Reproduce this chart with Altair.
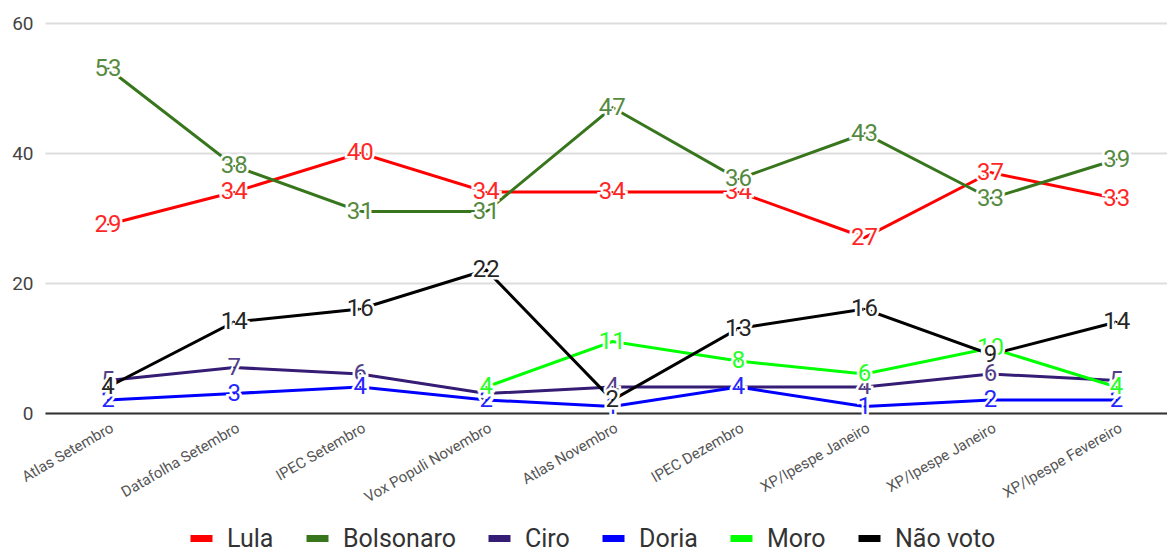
import json
import altair as alt
import pandas as pd

polls = ["Atlas Setembro", "Datafolha Setembro", "IPEC Setembro", "Vox Populi Novembro",
         "Atlas Novembro", "IPEC Dezembro", "XP/Ipespe Janeiro", "XP/Ipespe Janeiro",
         "XP/Ipespe Fevereiro"]
series = ["Lula", "Bolsonaro", "Ciro", "Doria", "Moro", "Não voto"]
colors = ["#ff0000", "#38761d", "#351c75", "#0000ff", "#00ff00", "#000000"]

lula = [29, 34, 40, 34, 34, 34, 27, 37, 33]
bolsonaro = [53, 38, 31, 31, 47, 36, 43, 33, 39]
ciro = [5, 7, 6, 3, 4, 4, 4, 6, 5]
doria = [2, 3, 4, 2, 1, 4, 1, 2, 2]
moro = [None, None, None, 4, 11, 8, 6, 10, 4]
nao_voto = [4, 14, 16, 22, 2, 13, 16, 9, 14]

values = [lula, bolsonaro, ciro, doria, moro, nao_voto]
rows = []
for k, (name, vals) in enumerate(zip(series, values)):
    for i, v in enumerate(vals):
        if v is None:
            continue
        rows.append({"i": i, "poll": polls[i], "series": name, "value": v, "k": k})
df = pd.DataFrame(rows)

label_expr = json.dumps(polls) + "[datum.value]"

x_enc = alt.X("i:O",
              scale=alt.Scale(type="point", padding=0.45, align=0.556),
              axis=alt.Axis(labelExpr=label_expr, labelAngle=-30, labelAlign="right",
                            labelBaseline="top", labelFontSize=15, labelColor="#555555",
                            labelFont="Roboto", labelPadding=7, ticks=False,
                            domain=True, domainColor="#333333", domainWidth=2,
                            grid=False, title=None, labelOverlap=False))
y_enc = alt.Y("value:Q",
              scale=alt.Scale(domain=[0, 60], nice=False),
              axis=alt.Axis(values=[0, 20, 40, 60], labelFontSize=19, labelColor="#444444",
                            labelFont="Roboto", labelPadding=12, ticks=False, domain=False,
                            grid=True, gridColor="#dddddd", gridWidth=2, title=None))
color_scale = alt.Scale(domain=series, range=colors)

base = alt.Chart(df)

lines = base.mark_line(strokeWidth=3).encode(
    x=x_enc, y=y_enc,
    color=alt.Color("series:N", scale=color_scale, sort=series,
                    legend=alt.Legend(title=None, orient="none", direction="horizontal",
                                      legendX=142, legendY=501, symbolType="stroke",
                                      symbolStrokeWidth=7, symbolSize=484,
                                      labelFontSize=25, labelFont="Roboto",
                                      labelColor="#333333", columnPadding=18,
                                      gridAlign="none",
                                      symbolOffset=0, labelOffset=11, labelLimit=0)),
    detail="series:N",
)

layers = [lines]
for name, col in zip(series, colors):
    sub = base.transform_filter(alt.datum.series == name)
    halo = sub.mark_text(font="Roboto", fontSize=24, stroke="white", strokeWidth=5,
                         fill="white", align="center", baseline="middle").encode(
        x=x_enc, y=y_enc, text="value:Q")
    txt = sub.mark_text(font="Roboto", fontSize=24, fill=col, opacity=0.85,
                        align="center", baseline="middle").encode(
        x=x_enc, y=y_enc, text="value:Q")
    dot = sub.mark_circle(size=4, color=col, opacity=1).encode(x=x_enc, y=y_enc)
    layers += [halo, txt, dot]

chart = alt.layer(*layers).properties(
    width=1122, height=390,
    autosize=alt.AutoSizeParams(type="none"),
    padding={"left": 45, "top": 23, "right": 0, "bottom": 137},
).configure_view(stroke=None)

chart.save("out.html", embed_options={"renderer": "svg", "actions": False})
